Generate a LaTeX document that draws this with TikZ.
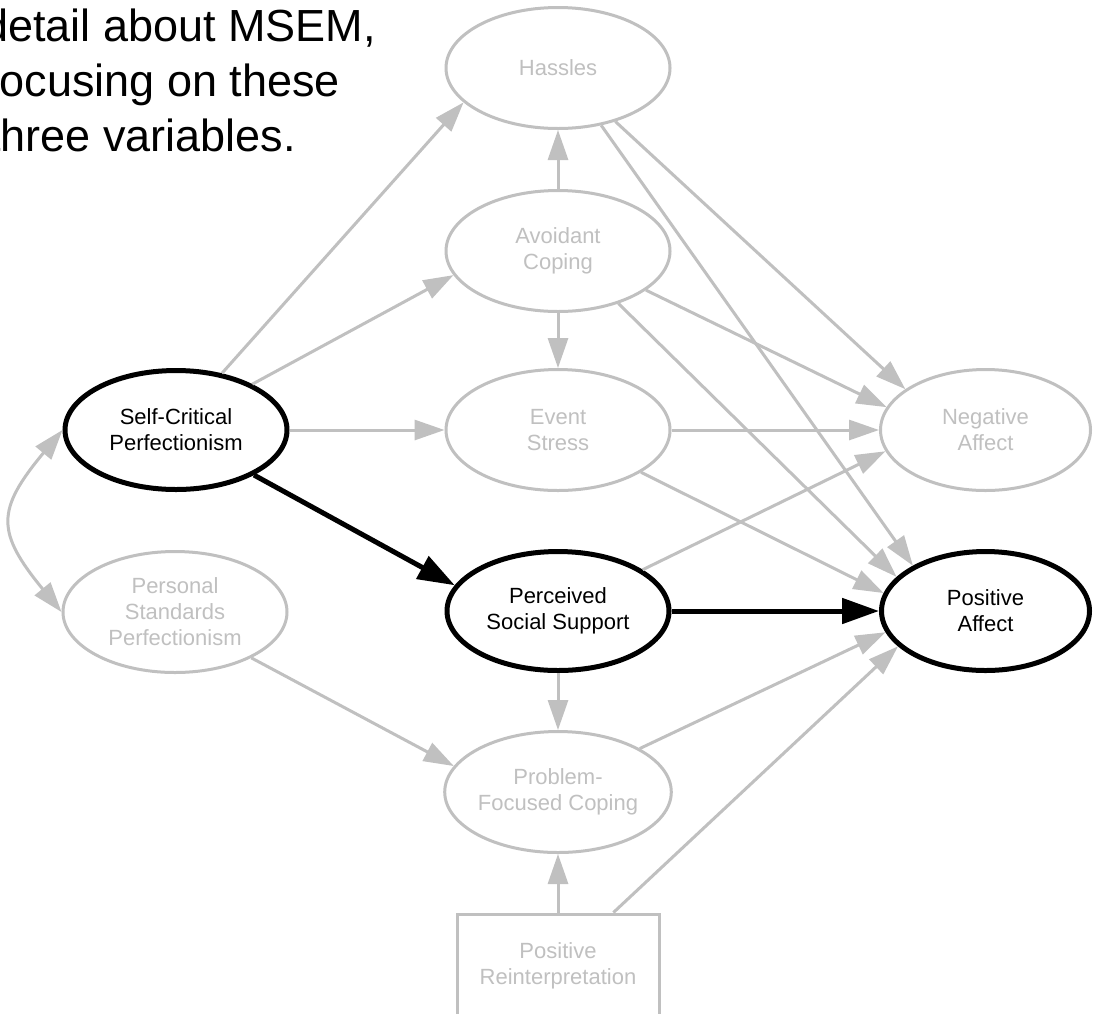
\documentclass[tikz,border=0pt]{standalone}
\usepackage{fontspec}
\setmainfont{Liberation Sans}
\usetikzlibrary{shapes.geometric,arrows.meta}
\definecolor{lg}{HTML}{C0C0C0}
\begin{document}
\begin{tikzpicture}[x=1pt,y=-1pt,
  nodefont/.style={font=\fontsize{22}{26}\selectfont},
  latent/.style={ellipse, draw=lg, line width=3pt, text=lg, minimum width=224pt, minimum height=121pt, inner sep=0pt, align=center, nodefont, fill=white},
  focus/.style={latent, draw=black, text=black, line width=5pt, minimum width=222pt, minimum height=119pt},
  obs/.style={rectangle, draw=lg, line width=3pt, text=lg, minimum width=202pt, minimum height=104pt, inner sep=0pt, align=center, nodefont, fill=white},
  garrow/.style={draw=lg, line width=3pt, -{Triangle[length=30pt,width=20pt]}},
  gboth/.style={draw=lg, line width=3pt, {Triangle[length=30pt,width=20pt]}-{Triangle[length=30pt,width=20pt]}},
  barrow/.style={draw=black, line width=5pt, -{Triangle[length=37pt,width=25pt]}},
  headline/.style={font=\fontsize{45}{56}\selectfont, anchor=base west, inner sep=0pt}
  ]
\useasboundingbox (0,0) rectangle (1094,1013);
\clip (0,0) rectangle (1094,1013);
\fill[white] (0,0) rectangle (1094,1013);

% heading text (cut off at the left edge, as in the reference)
\node[headline] (t1) at (-17,41) {detail about MSEM,};
\node[headline] (t2) at (-13,96) {focusing on these};
\node[headline] (t3) at (-12,151) {three variables.};

% nodes
\node[latent] (has) at (558,68) {Hassles};
\node[latent] (avc) at (558,251) {Avoidant\\Coping};
\node[latent] (evs) at (558,430) {Event\\Stress};
\node[focus]  (pss) at (558,611) {Perceived\\Social Support};
\node[latent] (pfc) at (558,792) {Problem-\\Focused Coping};
\node[obs]    (pri) at (558,966) {Positive\\Reinterpretation};
\node[focus]  (scp) at (176,430) {Self-Critical\\Perfectionism};
\node[latent] (psp) at (175,612) {Personal\\Standards\\Perfectionism};
\node[latent, minimum width=210pt] (neg) at (985.5,430) {Negative\\Affect};
\node[focus, minimum width=208pt]  (pos) at (985.5,611) {Positive\\Affect};

% gray connectors
\draw[garrow] (scp.51) -- (has.200);
\draw[garrow] (scp.31) -- (avc.193);
\draw[garrow] (scp) -- (evs);
\draw[garrow] (avc) -- (has);
\draw[garrow] (avc) -- (evs);
\draw[garrow] (has.-43.5) -- (neg.153);
\draw[garrow] (has.-53.6) -- (pos.148);
\draw[garrow] (avc.-24.5) -- (neg.167.6);
\draw[garrow] (avc.-41) -- (pos.159.3);
\draw[garrow] (evs) -- (neg);
\draw[garrow] (evs.-27.4) -- (pos.170.3);
\draw[garrow] (pss.26.8) -- (neg.192.4);
\draw[garrow] (pss) -- (pfc);
\draw[garrow] (psp.-31) -- (pfc.166.9);
\draw[garrow] (pfc.28.4) -- (pos.192);
\draw[garrow] (pri) -- (pfc);
\draw[garrow] (pri.44) -- (pos.202.8);
\draw[gboth] (scp.west) .. controls (-4,510) and (-4,532) .. (psp.west);

% black connectors
\draw[barrow] (scp.-30.7) -- (pss.166.4);
\draw[barrow] (pss) -- (pos);
\end{tikzpicture}
\end{document}
